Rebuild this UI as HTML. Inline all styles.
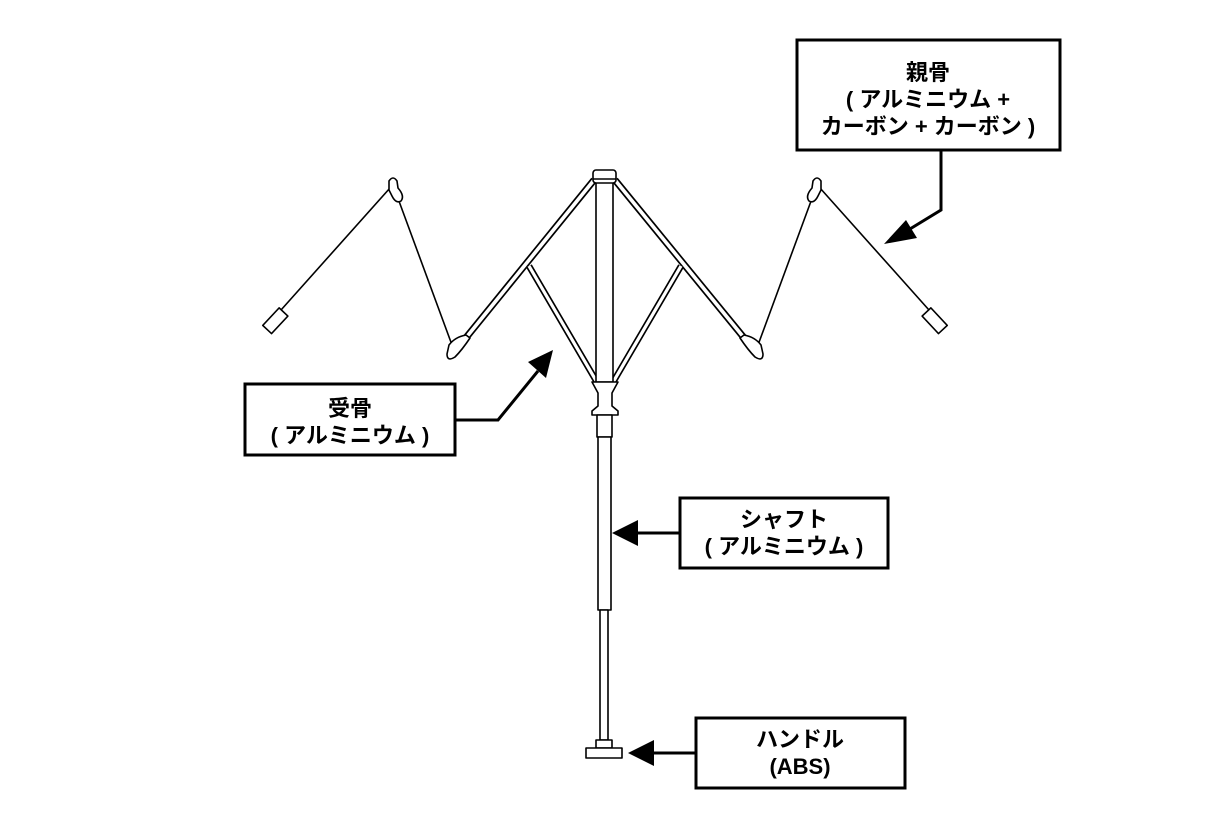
<!DOCTYPE html>
<html><head><meta charset="utf-8"><style>
body{margin:0;background:#fff;}
svg text{font-family:"Liberation Sans","Noto Sans CJK JP",sans-serif;font-weight:bold;font-size:22px;fill:#000;text-anchor:middle;}
</style></head><body>
<svg width="1231" height="815" viewBox="0 0 1231 815" xmlns="http://www.w3.org/2000/svg">
<g fill="#fff" stroke="#000" stroke-width="1.6" stroke-linejoin="round">
<line x1="594" y1="180" x2="456" y2="350" stroke-width="7"/>
<line x1="594" y1="180" x2="456" y2="350" stroke="#fff" stroke-width="3.6"/>
<line x1="615" y1="180" x2="754" y2="350" stroke-width="7"/>
<line x1="615" y1="180" x2="754" y2="350" stroke="#fff" stroke-width="3.6"/>
<line x1="529" y1="266" x2="598" y2="384" stroke-width="6.5"/>
<line x1="529" y1="266" x2="598" y2="384" stroke="#fff" stroke-width="3.2"/>
<line x1="681" y1="266" x2="612" y2="384" stroke-width="6.5"/>
<line x1="681" y1="266" x2="612" y2="384" stroke="#fff" stroke-width="3.2"/>
<line x1="452" y1="345" x2="396" y2="193" stroke-width="1.6"/>
<line x1="390" y1="188" x2="281" y2="310" stroke-width="1.6"/>
<line x1="758" y1="345" x2="814" y2="193" stroke-width="1.6"/>
<line x1="820" y1="188" x2="929" y2="310" stroke-width="1.6"/>
<path d="M449,345 Q455,337 466,335 L470,338 Q462,350 455,357 Q447,362 447,354 Z"/>
<path d="M761,345 Q755,337 744,335 L740,338 Q748,350 755,357 Q763,362 763,354 Z"/>
<path d="M389,181 Q393,175 397,181 L398,188 Q405,196 401,201 Q396,204 392,196 L389,190 Z"/>
<path d="M821,181 Q817,175 813,181 L812,188 Q805,196 809,201 Q814,204 818,196 L821,190 Z"/>
<rect x="-6" y="-11" width="12" height="24" transform="translate(276,320) rotate(43)"/>
<rect x="-6" y="-11" width="12" height="24" transform="translate(934,320) rotate(-43)"/>
<rect x="596" y="182" width="17" height="200"/>
<rect x="593" y="170" width="23" height="13" rx="3"/>
<line x1="593" y1="179" x2="616" y2="179"/>
<path d="M592,382 L618,382 L612,393 L612,406 L618,411 L618,415 L592,415 L592,411 L598,406 L598,393 Z"/>
<rect x="597" y="415" width="15" height="22"/>
<rect x="598" y="437" width="13" height="173"/>
<rect x="600" y="610" width="8" height="130"/>
<rect x="596" y="740" width="16" height="8"/>
<rect x="586" y="748" width="36" height="10"/>
</g>
<g fill="#fff" stroke="#000" stroke-width="3">
<rect x="797" y="40" width="263" height="110"/>
<rect x="245" y="384" width="210" height="71"/>
<rect x="680" y="498" width="208" height="70"/>
<rect x="696" y="718" width="209" height="70"/>
</g>
<g fill="none" stroke="#000" stroke-width="3">
<polyline points="941,150 941,210 905,232"/>
<polyline points="455,420 498,420 538,371"/>
<line x1="680" y1="533" x2="635" y2="533"/>
<line x1="696" y1="753" x2="650" y2="753"/>
</g>
<g fill="#000">
<polygon points="884,244 906,220 917,238"/>
<polygon points="553,350 528,362 546,378"/>
<polygon points="612,533 638,520 638,546"/>
<polygon points="628,753 654,740 654,766"/>
</g>
<text x="928" y="80">親骨</text>
<text x="928" y="107">( アルミニウム +</text>
<text x="928" y="134">カーボン + カーボン )</text>
<text x="350" y="416">受骨</text>
<text x="350" y="443">( アルミニウム )</text>
<text x="784" y="527">シャフト</text>
<text x="784" y="554">( アルミニウム )</text>
<text x="800" y="747">ハンドル</text>
<text x="800" y="774">(ABS)</text>
</svg>
</body></html>
